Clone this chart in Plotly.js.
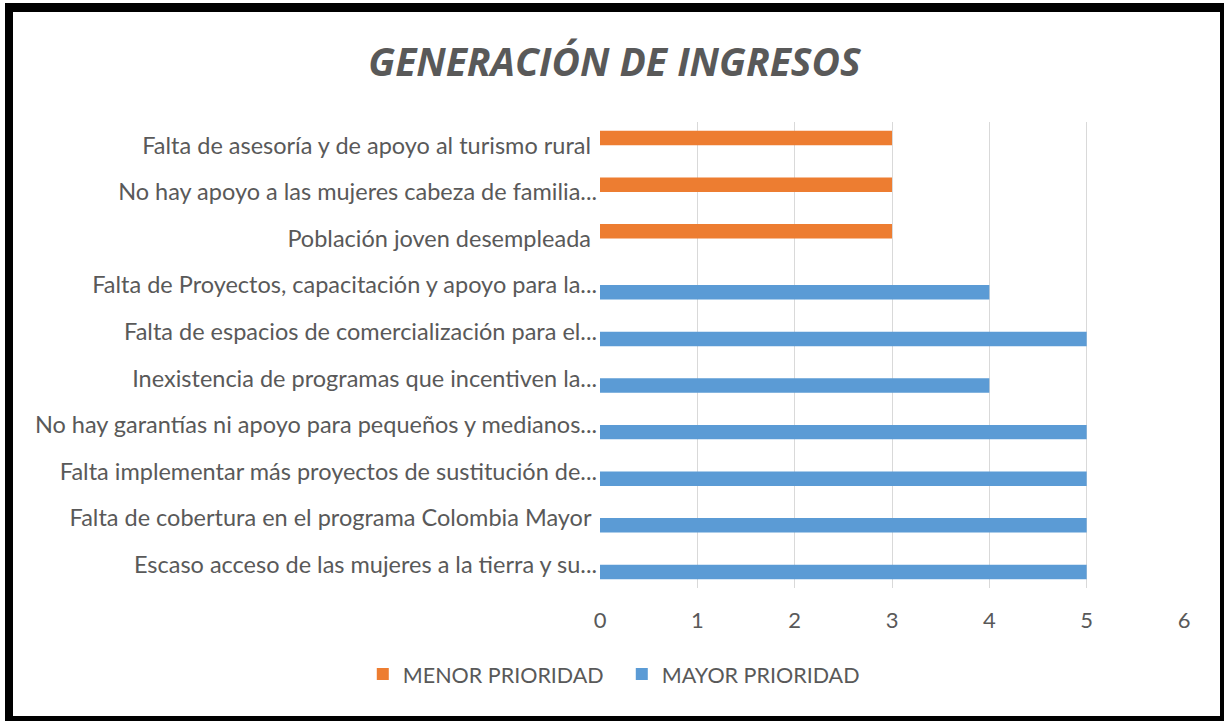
<!DOCTYPE html>
<html>
<head>
<meta charset="utf-8">
<script src="https://cdn.plot.ly/plotly-3.0.1.min.js"></script>
<style>
  html, body { margin: 0; padding: 0; background: #fff; }
  #wrap { position: relative; width: 1224px; height: 721px; overflow: hidden; }
  #chart { position: absolute; left: 0; top: 0; width: 1224px; height: 721px; }
  #frame { position: absolute; left: 5px; top: 3px; width: 1219px; height: 718px; box-sizing: border-box;
           border-style: solid; border-color: #000; border-width: 9px 4px 5px 8px; pointer-events: none; }
</style>
</head>
<body>
<div id="wrap">
  <div id="chart"></div>
  <div id="frame"></div>
</div>
<script>
// Categories, bottom to top
const categories = [
  "Escaso acceso de las mujeres a la tierra y su...",
  "Falta de cobertura en el programa Colombia Mayor ",
  "Falta implementar más proyectos de sustitución de...",
  "No hay garantías ni apoyo para pequeños y medianos...",
  "Inexistencia de programas que incentiven la...",
  "Falta de espacios de comercialización para el...",
  "Falta de Proyectos, capacitación y apoyo para la...",
  "Población joven desempleada ",
  "No hay apoyo a las mujeres cabeza de familia...",
  "Falta de asesoría y de apoyo al turismo rural "
];
const mayorPrioridad = [5, 5, 5, 5, 4, 5, 4, null, null, null];
const menorPrioridad = [null, null, null, null, null, null, null, 3, 3, 3];
const seriesNames = ["MAYOR PRIORIDAD", "MENOR PRIORIDAD"];
const xTicks = [0, 1, 2, 3, 4, 5, 6];

const labelFont = "Lato, 'Open Sans', sans-serif";
const gray = "#595959";

const data = [
  { type: "bar", orientation: "h", name: seriesNames[0], y: categories, x: mayorPrioridad,
    marker: { color: "#5B9BD5" }, hoverinfo: "x+y" },
  { type: "bar", orientation: "h", name: seriesNames[1], y: categories, x: menorPrioridad,
    marker: { color: "#ED7D31" }, hoverinfo: "x+y" }
];

const layout = {
  width: 1224, height: 721,
  margin: { l: 600, r: 40, t: 122, b: 133 },
  paper_bgcolor: "#fff", plot_bgcolor: "#fff",
  barmode: "group", bargap: 0.38, bargroupgap: 0,
  title: { text: "<b><i>GENERACIÓN DE INGRESOS</i></b>", x: 0.502, xanchor: "center", y: 0.914, yanchor: "middle",
           font: { family: "'Open Sans', sans-serif", size: 39, color: gray } },
  xaxis: { range: [0, 6], tickvals: xTicks, showgrid: true, gridcolor: "#D9D9D9", gridwidth: 1,
           zeroline: false, showline: false, ticks: "", ticklabelstandoff: 17,
           tickfont: { family: labelFont, size: 22, color: gray }, fixedrange: true },
  yaxis: { type: "category", categoryorder: "array", categoryarray: categories, showgrid: false,
           zeroline: false, showline: false, ticks: "", ticklabelstandoff: 2,
           tickfont: { family: labelFont, size: 23.5, color: gray }, fixedrange: true },
  showlegend: true,
  legend: { orientation: "h", traceorder: "reversed", xref: "container", yref: "container",
            x: 0.508, xanchor: "center", y: 0.065, yanchor: "middle", entrywidth: 214,
            font: { family: labelFont, size: 21.5, color: gray }, itemwidth: 30 },
  font: { family: labelFont, color: gray }
};

Plotly.newPlot("chart", data, layout, { displayModeBar: false, staticPlot: true });
</script>
</body>
</html>
